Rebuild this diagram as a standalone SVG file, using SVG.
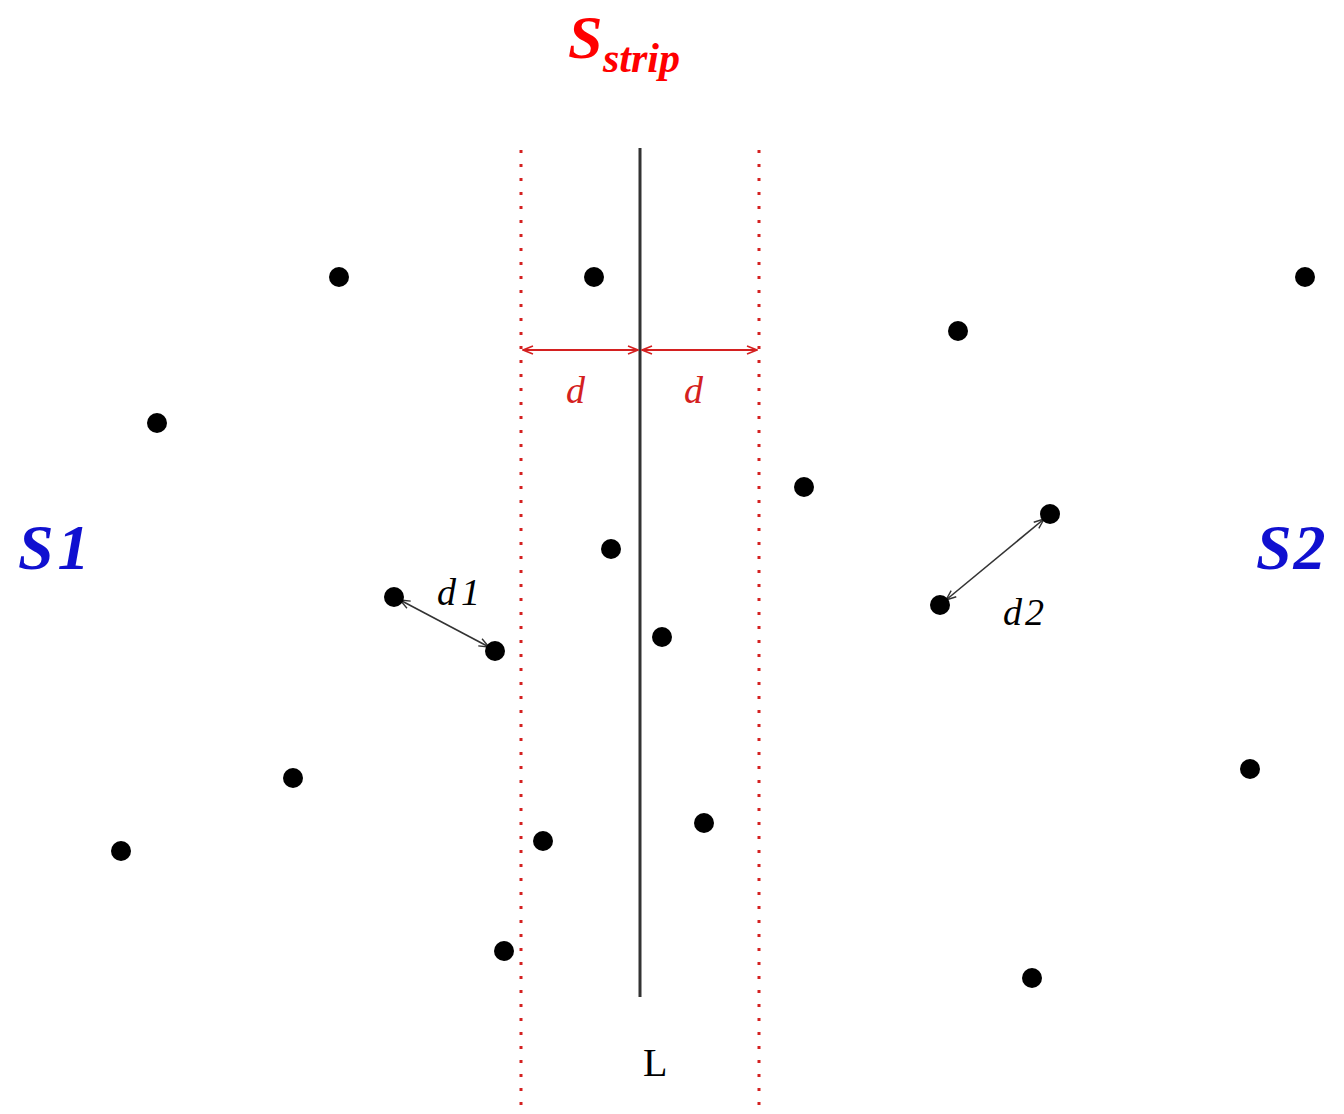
<svg xmlns="http://www.w3.org/2000/svg" width="1344" height="1114" viewBox="0 0 1344 1114">
<style>
.pt{fill:#000}
.bound{stroke:#d42020;stroke-width:3;stroke-dasharray:3 11;fill:none}
.lab{font-family:"Liberation Serif",serif;font-style:italic}
</style>
<defs>
<marker id="ar" viewBox="0 0 12 10" refX="11" refY="5" markerWidth="12" markerHeight="10" markerUnits="userSpaceOnUse" orient="auto-start-reverse">
<path d="M1,1 L11,5 L1,9" fill="none" stroke="#d42020" stroke-width="1.6"/>
</marker>
<marker id="ak" viewBox="0 0 12 10" refX="11" refY="5" markerWidth="12" markerHeight="10" markerUnits="userSpaceOnUse" orient="auto-start-reverse">
<path d="M1,1 L11,5 L1,9" fill="none" stroke="#333" stroke-width="1.4"/>
</marker>
</defs>
<rect width="1344" height="1114" fill="#fff"/>
<g id="title">
<text x="568" y="58" class="lab" font-size="62" font-weight="bold" fill="#ff0000">S</text>
<text x="603" y="72" class="lab" font-size="42" font-weight="bold" fill="#ff0000">strip</text>
</g>
<g id="labels">
<text x="18" y="569" class="lab" font-size="64" font-weight="bold" fill="#1010d0" letter-spacing="4">S1</text>
<text x="1256" y="569" class="lab" font-size="64" font-weight="bold" fill="#1010d0" letter-spacing="2">S2</text>
<text x="566" y="403" class="lab" font-size="38" fill="#d42020">d</text>
<text x="684" y="403" class="lab" font-size="38" fill="#d42020">d</text>
<text x="437" y="605" class="lab" font-size="38" fill="#000" letter-spacing="5">d1</text>
<text x="1003" y="625" class="lab" font-size="38" fill="#000" letter-spacing="3">d2</text>
<text x="643" y="1076" font-family="Liberation Serif,serif" font-size="40" fill="#000">L</text>
</g>
<g id="connectors">
<line x1="521" y1="150" x2="521" y2="1114" class="bound"/>
<line x1="759" y1="150" x2="759" y2="1114" class="bound"/>
<line x1="640" y1="148" x2="640" y2="997" stroke="#333" stroke-width="3"/>
<line x1="523" y1="350" x2="638" y2="350" stroke="#d42020" stroke-width="2" marker-start="url(#ar)" marker-end="url(#ar)"/>
<line x1="642" y1="350" x2="757" y2="350" stroke="#d42020" stroke-width="2" marker-start="url(#ar)" marker-end="url(#ar)"/>
<line x1="400" y1="600" x2="489" y2="647" stroke="#333" stroke-width="1.6" marker-start="url(#ak)" marker-end="url(#ak)"/>
<line x1="946" y1="600" x2="1044" y2="519" stroke="#333" stroke-width="1.6" marker-start="url(#ak)" marker-end="url(#ak)"/>
</g>
<g id="points">
<circle id="p1" class="pt" cx="339" cy="277" r="10"/>
<circle id="p2" class="pt" cx="594" cy="277" r="10"/>
<circle id="p3" class="pt" cx="1305" cy="277" r="10"/>
<circle id="p4" class="pt" cx="958" cy="331" r="10"/>
<circle id="p5" class="pt" cx="157" cy="423" r="10"/>
<circle id="p6" class="pt" cx="804" cy="487" r="10"/>
<circle id="p7" class="pt" cx="1050" cy="514" r="10"/>
<circle id="p8" class="pt" cx="611" cy="549" r="10"/>
<circle id="p9" class="pt" cx="394" cy="597" r="10"/>
<circle id="p10" class="pt" cx="940" cy="605" r="10"/>
<circle id="p11" class="pt" cx="662" cy="637" r="10"/>
<circle id="p12" class="pt" cx="495" cy="651" r="10"/>
<circle id="p13" class="pt" cx="293" cy="778" r="10"/>
<circle id="p14" class="pt" cx="1250" cy="769" r="10"/>
<circle id="p15" class="pt" cx="704" cy="823" r="10"/>
<circle id="p16" class="pt" cx="543" cy="841" r="10"/>
<circle id="p17" class="pt" cx="121" cy="851" r="10"/>
<circle id="p18" class="pt" cx="504" cy="951" r="10"/>
<circle id="p19" class="pt" cx="1032" cy="978" r="10"/>
</g>
</svg>
